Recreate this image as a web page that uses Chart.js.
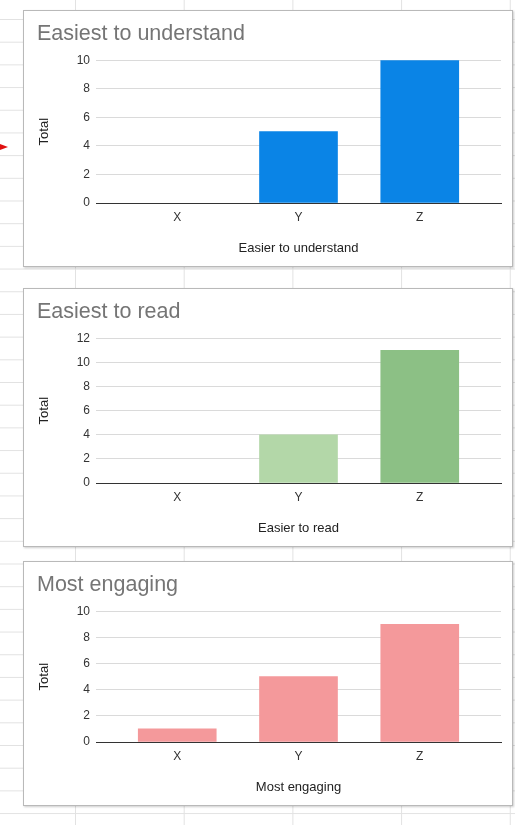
<!DOCTYPE html>
<html>
<head>
<meta charset="utf-8">
<script src="https://cdn.jsdelivr.net/npm/chart.js@4.4.0/dist/chart.umd.min.js"></script>
<style>
  body {
    margin: 0;
    width: 515px;
    height: 825px;
    overflow: hidden;
    background-color: #fff;
    background-image: linear-gradient(to right, #e2e2e2 1px, transparent 1px),
                      linear-gradient(to bottom, #e2e2e2 1px, transparent 1px);
    background-size: 108.7px 22.7px;
    background-position: 75px 19px;
  }
  .box {
    position: absolute;
    left: 23px;
    width: 488px;
    background: #fff;
    border: 1px solid #b9b9b9;
    box-shadow: 1px 1px 2px rgba(0, 0, 0, 0.2);
  }
  .box canvas { display: block; }
  #arrow {
    position: absolute;
    left: 0;
    top: 144px;
    width: 0;
    height: 0;
    border-left: 8px solid #e01010;
    border-top: 3px solid transparent;
    border-bottom: 3px solid transparent;
  }
</style>
</head>
<body>
<div id="arrow"></div>
<div class="box" style="top:10px;height:255px"><canvas id="understandChart" width="488" height="255"></canvas></div>
<div class="box" style="top:288px;height:257px"><canvas id="readChart" width="488" height="257"></canvas></div>
<div class="box" style="top:561px;height:243px"><canvas id="engagingChart" width="488" height="243"></canvas></div>
<script>
const categories = ['X', 'Y', 'Z'];
const understandValues = [0, 5, 10];
const readValues = [0, 4, 11];
const engagingValues = [1, 5, 9];
const understandTicks = [0, 2, 4, 6, 8, 10];
const readTicks = [0, 2, 4, 6, 8, 10, 12];
const engagingTicks = [0, 2, 4, 6, 8, 10];

const fontFamily = '"Liberation Sans", Arial, sans-serif';

function makeChart(id, title, axisTitle, values, ticks, colors) {
    let ctx = document.getElementById(id).getContext('2d');
    return new Chart(ctx, {
        type: 'bar',
        data: {
            datasets: [
                {
                    data: categories.map((c, i) => ({ x: i, y: values[i] })),
                    // a zero bar is not drawn at all
                    backgroundColor: c => (c.raw && c.raw.y === 0) ? 'rgba(0,0,0,0)' : colors[c.dataIndex],
                    barThickness: 78,
                    borderWidth: 0
                }
            ]
        },
        options: {
            responsive: false,
            animation: false,
            layout: { padding: { left: 13, right: 11, top: 0, bottom: 0 } },
            plugins: {
                legend: { display: false },
                tooltip: { enabled: false },
                title: {
                    display: true,
                    text: title,
                    align: 'start',
                    color: '#757575',
                    font: { size: 21.5, family: fontFamily, weight: 'normal', lineHeight: 1.2 },
                    padding: { top: 10, bottom: 13.5 }
                }
            },
            scales: {
                x: {
                    type: 'linear',
                    min: -0.67,
                    max: 2.67,
                    offset: false,
                    afterBuildTicks: s => { s.ticks = categories.map((c, i) => ({ value: i })); },
                    afterFit: s => { s.height = 63; },
                    grid: { display: false, drawTicks: false, offset: false },
                    border: { display: true, color: '#333', width: 1 },
                    ticks: {
                        padding: 7,
                        color: '#333',
                        font: { size: 12, family: fontFamily },
                        callback: v => categories[v]
                    },
                    title: {
                        display: true,
                        text: axisTitle,
                        color: '#222',
                        font: { size: 13, family: fontFamily, lineHeight: 1 },
                        padding: { top: 0, bottom: 11 }
                    }
                },
                y: {
                    min: 0,
                    max: ticks[ticks.length - 1],
                    afterBuildTicks: s => { s.ticks = ticks.map(v => ({ value: v })); },
                    afterFit: s => { s.width = 59; },
                    border: { display: false },
                    grid: {
                        drawTicks: false,
                        color: c => (c.tick && c.tick.value === 0) ? '#333' : '#dadada'
                    },
                    ticks: {
                        padding: 6,
                        color: '#333',
                        font: { size: 12, family: fontFamily }
                    },
                    title: {
                        display: true,
                        text: 'Total',
                        color: '#222',
                        font: { size: 13, family: fontFamily, lineHeight: 1 },
                        padding: { top: 1, bottom: 0 }
                    }
                }
            }
        }
    });
}

makeChart('understandChart', 'Easiest to understand', 'Easier to understand',
    understandValues, understandTicks, ['#0a84e6', '#0a84e6', '#0a84e6']);
makeChart('readChart', 'Easiest to read', 'Easier to read',
    readValues, readTicks, ['#b3d7a8', '#b3d7a8', '#8cc085']);
makeChart('engagingChart', 'Most engaging', 'Most engaging',
    engagingValues, engagingTicks, ['#f4999b', '#f4999b', '#f4999b']);
</script>
</body>
</html>
